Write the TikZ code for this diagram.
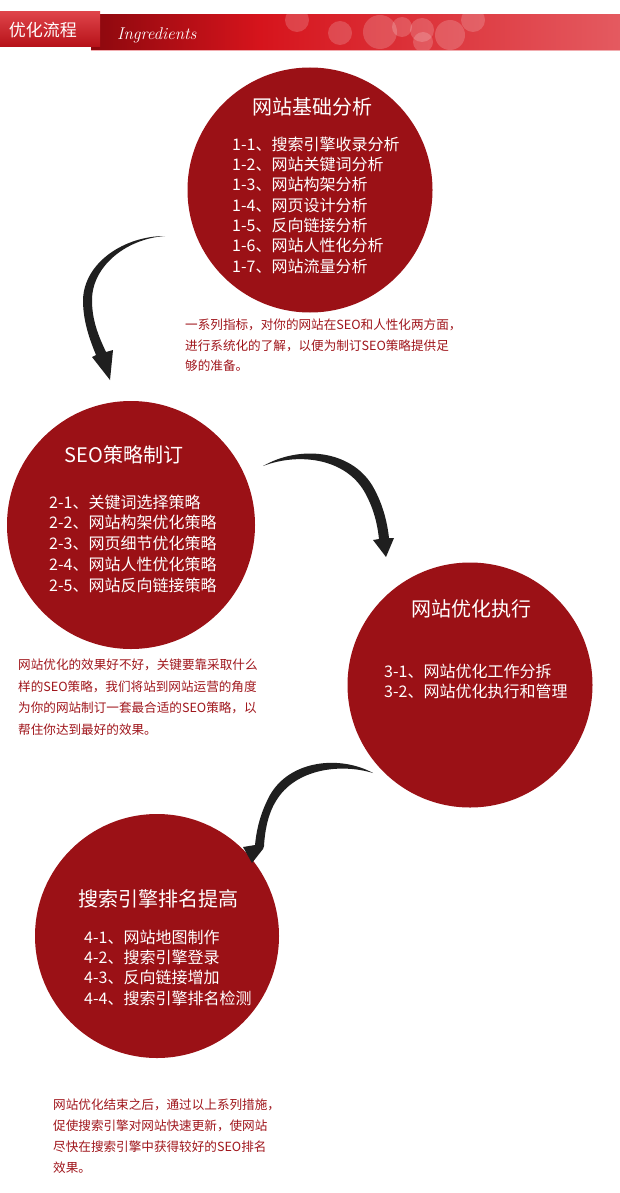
\documentclass[tikz,border=0pt]{standalone}
\usepackage{fontspec}
\newfontfamily\cjk{Noto Sans CJK SC}
\usepackage{xcolor}

\definecolor{circred}{RGB}{155,17,22}
\definecolor{notered}{RGB}{160,22,28}
\definecolor{banddark}{RGB}{140,8,14}
\definecolor{bandred}{RGB}{214,20,28}
\definecolor{bandpink}{RGB}{228,90,96}

\tikzset{
  stage/.style={circle, fill=circred, inner sep=0pt},
  stagetitle/.style={text=white, inner sep=0pt, font=\cjk\fontsize{20}{24}\selectfont},
  item/.style={anchor=west, text=white, inner sep=0pt, font=\cjk\fontsize{16}{20}\selectfont},
  note/.style={anchor=west, text=notered, inner sep=0pt, font=\cjk\fontsize{12.6}{15}\selectfont},
  swoosh/.style={fill=black!88},
  bokeh/.style={fill=white, opacity=0.18},
}

\begin{document}
\begin{tikzpicture}[x=1pt,y=-1pt]
  \useasboundingbox[fill=white] (0,0) rectangle (620,1193);

  % header band
  \shade[left color=banddark, right color=bandred] (91,15) rectangle (260,50);
  \shade[left color=bandred, right color=bandpink] (260,15) rectangle (620,50);
  \begin{scope}
    \clip (91,15) rectangle (620,50);
    \fill[bokeh] (297,20) circle[radius=12];
    \fill[bokeh] (340,33) circle[radius=12];
    \fill[bokeh] (380,32) circle[radius=17];
    \fill[bokeh] (402,27) circle[radius=10];
    \fill[bokeh] (422,30) circle[radius=12];
    \fill[bokeh] (423,42) circle[radius=10];
    \fill[bokeh] (450,35) circle[radius=15];
    \fill[bokeh] (473,20) circle[radius=12];
  \end{scope}
  \draw[bandpink!50, line width=1pt] (91,50.5) -- (620,50.5);
  \shade[top color=bandred!80!white, bottom color=bandred!85!black] (0,12) rectangle (100,47);
  \node[text=white, inner sep=0pt, font=\cjk\fontsize{17}{20}\selectfont] (head) at (43,30) {优化流程};
  \node[text=white, inner sep=0pt, anchor=west, font=\itshape\fontsize{17}{20}\selectfont] (ingr) at (117,35) {Ingredients};

  % stages
  \node[stage, minimum size=245pt] (basic) at (310,190) {};
  \node[stagetitle] (basic-t) at (312,107) {网站基础分析};
  \foreach \i/\txt in {1/搜索引擎收录分析,2/网站关键词分析,3/网站构架分析,4/网页设计分析,5/反向链接分析,6/网站人性化分析,7/网站流量分析}
    \node[item] (basic-\i) at (232,{144+20.33*(\i-1)}) {1-\i、\txt};

  \node[stage, minimum size=248pt] (seo) at (131,525) {};
  \node[stagetitle] (seo-t) at (124,455) {SEO策略制订};
  \foreach \i/\txt in {1/关键词选择策略,2/网站构架优化策略,3/网页细节优化策略,4/网站人性优化策略,5/网站反向链接策略}
    \node[item] (seo-\i) at (49,{502+20.75*(\i-1)}) {2-\i、\txt};

  \node[stage, minimum size=245pt] (exec) at (470,685) {};
  \node[stagetitle] (exec-t) at (471,609) {网站优化执行};
  \foreach \i/\txt in {1/网站优化工作分拆,2/网站优化执行和管理}
    \node[item] (exec-\i) at (384,{671+20*(\i-1)}) {3-\i、\txt};

  \node[stage, minimum size=244pt] (rank) at (157,936) {};
  \node[stagetitle] (rank-t) at (158,899) {搜索引擎排名提高};
  \foreach \i/\txt in {1/网站地图制作,2/搜索引擎登录,3/反向链接增加,4/搜索引擎排名检测}
    \node[item] (rank-\i) at (84,{937+20.4*(\i-1)}) {4-\i、\txt};

  % notes
  \node[note] (basic-n1) at (185,325) {一系列指标，对你的网站在SEO和人性化两方面，};
  \node[note] (basic-n2) at (185,346) {进行系统化的了解，以便为制订SEO策略提供足};
  \node[note] (basic-n3) at (185,366) {够的准备。};

  \node[note] (seo-n1) at (18,665) {网站优化的效果好不好，关键要靠采取什么};
  \node[note] (seo-n2) at (18,687) {样的SEO策略，我们将站到网站运营的角度};
  \node[note] (seo-n3) at (18,708) {为你的网站制订一套最合适的SEO策略，以};
  \node[note] (seo-n4) at (18,730) {帮住你达到最好的效果。};

  \node[note] (rank-n1) at (53,1105) {网站优化结束之后，通过以上系列措施，};
  \node[note] (rank-n2) at (53,1126) {促使搜索引擎对网站快速更新，使网站};
  \node[note] (rank-n3) at (53,1147) {尽快在搜索引擎中获得较好的SEO排名};
  \node[note] (rank-n4) at (53,1168) {效果。};

  % curved arrows
  \fill[swoosh] (165,236) .. controls (125,236) and (84,262) .. (83,300)
    .. controls (83,322) and (90,340) .. (96,355)
    -- (92,357) -- (110,380) -- (113,350) -- (106,352)
    .. controls (98,335) and (92,320) .. (92,300)
    .. controls (92,267) and (125,239) .. (165,236) -- cycle;

  \fill[swoosh] (263,466) .. controls (300,445) and (350,450) .. (372,485)
    .. controls (382,502) and (387,520) .. (389,538)
    -- (394,538) -- (386,557) -- (373,540) -- (379,539)
    .. controls (377,520) and (372,505) .. (364,491)
    .. controls (345,459) and (300,452) .. (263,466) -- cycle;

  \fill[swoosh] (373,773) .. controls (340,755) and (290,760) .. (270,795)
    .. controls (262,810) and (257,825) .. (255,845)
    -- (243,847) -- (252,863) -- (263,849) -- (264,846)
    .. controls (265,828) and (269,812) .. (276,801)
    .. controls (295,769) and (340,763) .. (373,773) -- cycle;
\end{tikzpicture}
\end{document}
